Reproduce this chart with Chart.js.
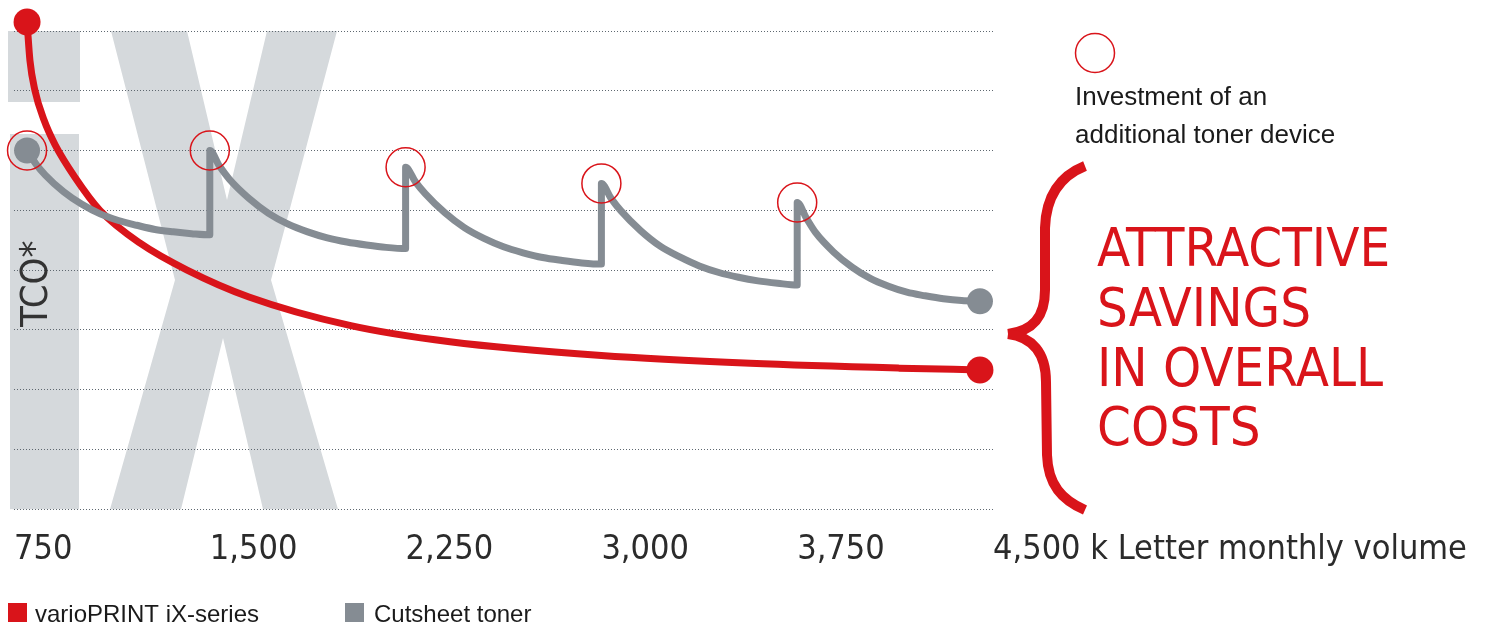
<!DOCTYPE html>
<html>
<head>
<meta charset="utf-8">
<script src="https://cdn.jsdelivr.net/npm/chart.js@4.4.1/dist/chart.umd.min.js"></script>
<style>
  html, body { margin: 0; padding: 0; background: #fff; }
  #wrap { position: relative; width: 1487px; height: 627px; }
</style>
</head>
<body>
<div id="wrap"><canvas id="tco"></canvas></div>
<script>
// x = monthly volume (k Letter), y = TCO (relative units, 0..8 on the gridlines)
var volumeTicks = [750, 1500, 2250, 3000, 3750, 4500];
var tickLabels = ['750', '1,500', '2,250', '3,000', '3,750', '4,500 k Letter monthly volume'];

var ixVolume = [800, 811, 830, 865, 907, 984, 1079, 1233, 1413, 1650, 2040, 2420, 3000, 3570, 4140, 4450];
var ixTco    = [8.15, 7.51, 7.01, 6.51, 6.1, 5.55, 5.0, 4.45, 4.0, 3.55, 3.07, 2.8, 2.57, 2.44, 2.36, 2.33];

var tonerVolume = [
  800, 835, 870, 940, 1010, 1080, 1150, 1220, 1290, 1360, 1430, 1500,
  1500, 1537, 1575, 1650, 1725, 1800, 1875, 1950, 2025, 2100, 2175, 2250,
  2250, 2287, 2325, 2400, 2475, 2550, 2625, 2700, 2775, 2850, 2925, 3000,
  3000, 3037, 3075, 3150, 3225, 3300, 3375, 3450, 3525, 3600, 3675, 3750,
  3750, 3785, 3820, 3890, 3960, 4030, 4100, 4170, 4240, 4310, 4380, 4450
];
var tonerTco = [
  6.0, 5.77, 5.59, 5.31, 5.1, 4.94, 4.83, 4.75, 4.68, 4.64, 4.61, 4.59,
  6.0, 5.74, 5.52, 5.2, 4.95, 4.77, 4.64, 4.54, 4.47, 4.42, 4.38, 4.36,
  5.72, 5.48, 5.28, 4.96, 4.71, 4.53, 4.39, 4.29, 4.21, 4.16, 4.12, 4.1,
  5.45, 5.2, 4.99, 4.66, 4.4, 4.22, 4.07, 3.96, 3.88, 3.82, 3.78, 3.75,
  5.13, 4.87, 4.63, 4.3, 4.05, 3.86, 3.73, 3.63, 3.57, 3.52, 3.49, 3.48
];

var investVolume = [800, 1500, 2250, 3000, 3750];
var investTco    = [6.0, 6.0, 5.72, 5.45, 5.13];

var seriesNames = ['varioPRINT iX-series', 'Cutsheet toner'];
var noteLines = ['Investment of an', 'additional toner device'];
var savingsLines = ['ATTRACTIVE', 'SAVINGS', 'IN OVERALL', 'COSTS'];
var axisTitle = 'TCO*';

var RED = '#d9141a';
var GREY = '#858c93';
var NARROW = "'Liberation Sans Narrow', 'DejaVu Sans Condensed', 'Liberation Sans', sans-serif";
var SANS = "'Liberation Sans', Arial, sans-serif";

function pts(xs, ys) {
  var out = [];
  for (var i = 0; i < xs.length; i++) out.push({x: xs[i], y: ys[i]});
  return out;
}

function endDots(size) {
  return function(ctx) {
    var n = ctx.dataset.data.length;
    return (ctx.dataIndex === 0 || ctx.dataIndex === n - 1) ? size : 0;
  };
}

// big "iX" letters behind the grid, plus the texts round the plot
var backdrop = {
  id: 'backdrop',
  beforeDraw: function(chart) {
    var c = chart.ctx, a = chart.chartArea;
    var t = a.top, b = a.bottom;
    c.save();
    c.fillStyle = '#d5d9dc';
    c.fillRect(8, t, 72, 71);
    c.fillRect(10, 134, 69, b - 134);
    c.beginPath();
    c.moveTo(111, t); c.lineTo(187, t); c.lineTo(227, 200); c.lineTo(267, t);
    c.lineTo(337, t); c.lineTo(271, 280); c.lineTo(338, b); c.lineTo(263, b);
    c.lineTo(223, 338); c.lineTo(181, b); c.lineTo(110, b); c.lineTo(175, 280);
    c.closePath();
    c.fill();
    c.restore();
  },
  afterDraw: function(chart) {
    var c = chart.ctx;
    c.save();
    // rotated axis title
    c.translate(47, 327);
    c.rotate(-Math.PI / 2);
    c.fillStyle = '#333';
    c.font = '38px ' + NARROW;
    c.textAlign = 'left';
    c.textBaseline = 'alphabetic';
    c.fillText(axisTitle, 0, 0);
    c.restore();

    c.save();
    // bottom legend
    c.font = '24px ' + SANS;
    c.textBaseline = 'alphabetic';
    c.fillStyle = RED;
    c.fillRect(8, 603, 19, 19);
    c.fillStyle = '#1a1a1a';
    c.fillText(seriesNames[0], 35, 622);
    c.fillStyle = GREY;
    c.fillRect(345, 603, 19, 19);
    c.fillStyle = '#1a1a1a';
    c.fillText(seriesNames[1], 374, 622);

    // investment key
    c.strokeStyle = RED;
    c.lineWidth = 1.5;
    c.beginPath();
    c.arc(1095, 53, 19.5, 0, Math.PI * 2);
    c.stroke();
    c.font = '26px ' + SANS;
    c.fillStyle = '#1a1a1a';
    c.fillText(noteLines[0], 1075, 105);
    c.fillText(noteLines[1], 1075, 143);

    // brace
    c.strokeStyle = RED;
    c.lineWidth = 10;
    c.lineCap = 'butt';
    c.beginPath();
    c.moveTo(1085, 166);
    c.bezierCurveTo(1060, 176, 1046, 196, 1045, 228);
    c.lineTo(1045, 290);
    c.bezierCurveTo(1045, 318, 1032, 331, 1008, 334);
    c.stroke();
    c.beginPath();
    c.moveTo(1008, 334);
    c.bezierCurveTo(1032, 337, 1046, 352, 1046, 382);
    c.lineTo(1047, 455);
    c.bezierCurveTo(1048, 485, 1062, 500, 1085, 510);
    c.stroke();

    // headline
    c.font = '54px ' + NARROW;
    c.fillStyle = RED;
    var base = [266, 326, 386, 445];
    for (var i = 0; i < savingsLines.length; i++) c.fillText(savingsLines[i], 1097, base[i]);
    c.restore();
  }
};

var ctx = document.getElementById('tco').getContext('2d');
var outChart = new Chart(ctx, {
  type: 'line',
  data: {
    datasets: [
      {
        label: seriesNames[0],
        data: pts(ixVolume, ixTco),
        borderColor: RED,
        backgroundColor: RED,
        borderWidth: 7,
        cubicInterpolationMode: 'monotone',
        pointRadius: endDots(13.5),
        pointBackgroundColor: RED,
        pointBorderWidth: 0,
        clip: false,
        order: 3
      },
      {
        label: seriesNames[1],
        data: pts(tonerVolume, tonerTco),
        borderColor: GREY,
        backgroundColor: GREY,
        borderWidth: 7,
        cubicInterpolationMode: 'monotone',
        borderJoinStyle: 'round',
        pointRadius: endDots(13),
        pointBackgroundColor: GREY,
        pointBorderWidth: 0,
        clip: false,
        order: 2
      },
      {
        label: noteLines.join(' '),
        data: pts(investVolume, investTco),
        showLine: false,
        pointRadius: 19.5,
        pointBorderColor: RED,
        pointBackgroundColor: 'rgba(0,0,0,0)',
        pointBorderWidth: 1.5,
        clip: false,
        order: 1
      }
    ]
  },
  options: {
    responsive: true,
    maintainAspectRatio: false,
    animation: false,
    layout: { autoPadding: false, padding: { left: 14, right: 494, top: 31, bottom: 35 } },
    plugins: { legend: { display: false }, tooltip: { enabled: false } },
    scales: {
      x: {
        type: 'linear',
        min: 750,
        max: 4500,
        afterBuildTicks: function(scale) {
          scale.ticks = volumeTicks.map(function(v) { return {value: v}; });
        },
        afterFit: function(scale) {
          // the long last label lives in the right margin; keep the plot width fixed
          scale.paddingLeft = 0;
          scale.paddingRight = 0;
        },
        grid: { display: false, drawTicks: false },
        border: { display: false },
        ticks: {
          autoSkip: false,
          maxRotation: 0,
          align: 'start',
          padding: 21,
          color: '#2b2b2b',
          font: { family: NARROW, size: 34 },
          callback: function(value, index) { return tickLabels[index]; }
        }
      },
      y: {
        min: 0,
        max: 8,
        ticks: { display: false, stepSize: 1 },
        grid: { color: '#5f6870', lineWidth: 1, drawTicks: false },
        border: { display: false, dash: [1, 2] }
      }
    }
  },
  plugins: [backdrop]
});
</script>
</body>
</html>
